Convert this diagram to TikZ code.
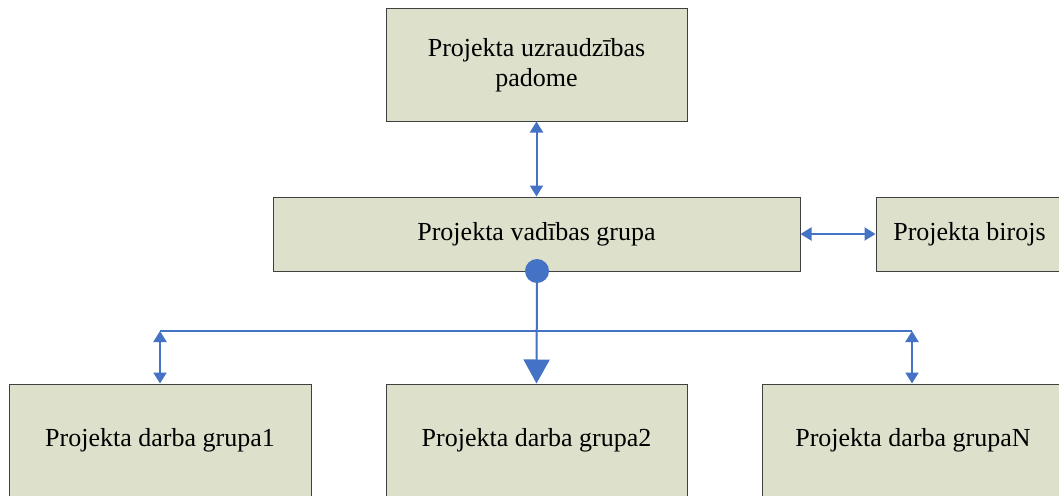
\documentclass[tikz,border=0pt]{standalone}
\usepackage{fontspec}
\setmainfont{Liberation Serif}
\usetikzlibrary{arrows.meta}
\definecolor{boxfill}{RGB}{221,224,203}
\definecolor{boxline}{RGB}{64,64,64}
\definecolor{conn}{RGB}{68,114,196}
\tikzset{
  orgbox/.style={draw=boxline, line width=1pt, fill=boxfill, inner sep=0pt, align=center,
    font=\fontsize{26}{30}\selectfont, text=black},
  link/.style={draw=conn, line width=2pt, {Triangle[length=11pt,width=13pt]}-{Triangle[length=11pt,width=13pt]}},
  bus/.style={draw=conn, line width=2pt},
  bigarrow/.style={draw=conn, line width=2pt, -{Triangle[length=24pt,width=26pt]}},
}
\begin{document}
\begin{tikzpicture}[x=1pt,y=-1pt]
\useasboundingbox (0,0) rectangle (1059,495);
\clip (0,0) rectangle (1059,495);
\fill[white] (0,0) rectangle (1059,495);
\node[orgbox, minimum width=301pt, minimum height=112pt] (top) at (536.5,65) {Projekta uzraudzības\\padome};
\node[orgbox, minimum width=527pt, minimum height=74pt] (mid) at (536.5,234) {Projekta vadības grupa};
\node[orgbox, minimum width=187pt, minimum height=74pt] (biro) at (969.5,234) {Projekta birojs};
\node[orgbox, minimum width=302pt, minimum height=112pt] (g1) at (160,440) {Projekta darba grupa1};
\node[orgbox, minimum width=301pt, minimum height=112pt] (g2) at (536.5,440) {Projekta darba grupa2};
\node[orgbox, minimum width=302pt, minimum height=112pt] (gN) at (913,440) {Projekta darba grupaN};
\coordinate (bl) at (160,331);
\coordinate (br) at (912,331);
\draw[link] (top.south) -- (mid.north);
\draw[link] (mid.east) -- (biro.west);
\draw[bus] (bl) -- (br);
\draw[link] (bl) -- (g1.north);
\draw[link] (br) -- (g1.north -| br);
\node[circle, fill=conn, minimum size=24pt, inner sep=0pt] (dot) at (537,271) {};
\draw[bigarrow] (dot.center) -- (g2.north);
\end{tikzpicture}
\end{document}
